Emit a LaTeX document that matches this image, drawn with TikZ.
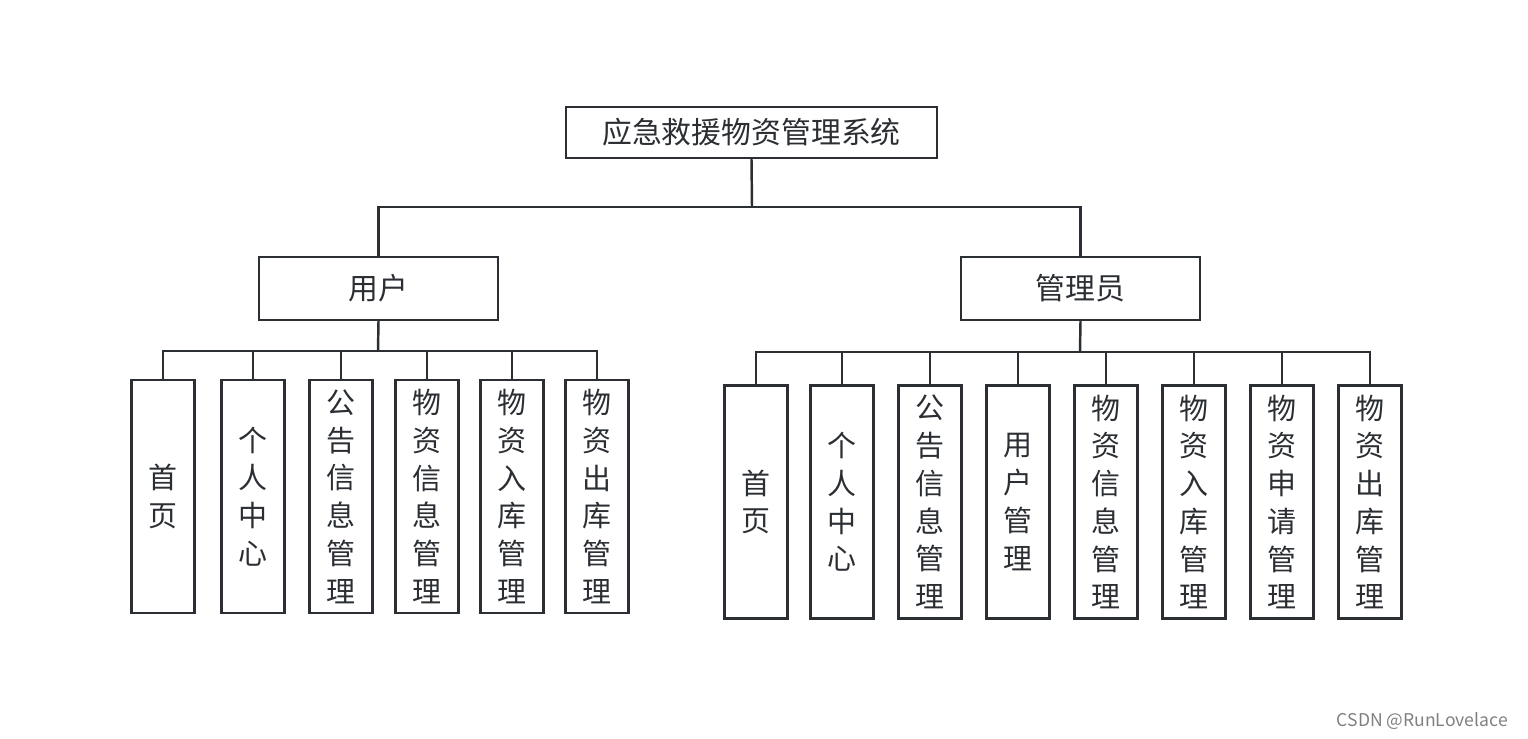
\documentclass[tikz,border=0pt]{standalone}
\usepackage{fontspec}
\setmainfont{Noto Sans CJK SC}
\definecolor{ln}{HTML}{2B2F33}
\begin{document}
\begin{tikzpicture}[x=0.02cm,y=-0.02cm,
  box/.style={draw=ln,line width=1.4pt,minimum width=1.26cm,minimum height=4.66cm,inner sep=0pt,align=center,font=\fontsize{16.5}{21.5}\selectfont,text=ln},
  bigbox/.style={draw=ln,line width=1.4pt,inner sep=0pt,text=ln},
  con/.style={draw=ln,line width=1.4pt}]
\useasboundingbox (0,0) rectangle (1528,738);
\node[bigbox,minimum width=7.42cm,minimum height=1.02cm,font=\fontsize{17}{20}\selectfont] (root) at (751.5,132.5) {应急救援物资管理系统};
\node[bigbox,minimum width=4.78cm,minimum height=1.26cm,font=\fontsize{17}{20}\selectfont] (u) at (378.5,288.5) {用户};
\node[bigbox,minimum width=4.78cm,minimum height=1.26cm,font=\fontsize{17}{20}\selectfont] (a) at (1080.5,288.5) {管理员};
\coordinate (j) at (752,207);
\draw[con] (root.south) -- (j);
\draw[con] (j) -| (u.north);
\draw[con] (j) -| (a.north);
% user children
\foreach \n/\x/\t in {u1/163/首\\页, u2/253/个\\人\\中\\心, u3/341/公\\告\\信\\息\\管\\理, u4/427/物\\资\\信\\息\\管\\理, u5/512/物\\资\\入\\库\\管\\理, u6/597/物\\资\\出\\库\\管\\理}{
  \node[box] (\n) at (\x,496.5) {\t};
}
\coordinate (ub) at (378,351);
\draw[con] (u.south) -- (ub);
\draw[con] (u1.north) |- (u6.north |- ub) -- (u6.north);
\foreach \n in {u2,u3,u4,u5}{\draw[con] (\n.north) -- (\n.north |- ub);}
% admin children
\foreach \n/\x/\t in {a1/756/首\\页, a2/842/个\\人\\中\\心, a3/930/公\\告\\信\\息\\管\\理, a4/1018/用\\户\\管\\理, a5/1106/物\\资\\信\\息\\管\\理, a6/1194/物\\资\\入\\库\\管\\理, a7/1282/物\\资\\申\\请\\管\\理, a8/1370/物\\资\\出\\库\\管\\理}{
  \node[box] (\n) at (\x,502) {\t};
}
\coordinate (ab) at (1080,352);
\draw[con] (a.south) -- (ab);
\draw[con] (a1.north) |- (a8.north |- ab) -- (a8.north);
\foreach \n in {a2,a3,a4,a5,a6,a7}{\draw[con] (\n.north) -- (\n.north |- ab);}
\node[text=gray,font=\fontsize{10}{12}\selectfont,anchor=east] (wm) at (1514,721) {CSDN @RunLovelace};
\end{tikzpicture}
\end{document}
